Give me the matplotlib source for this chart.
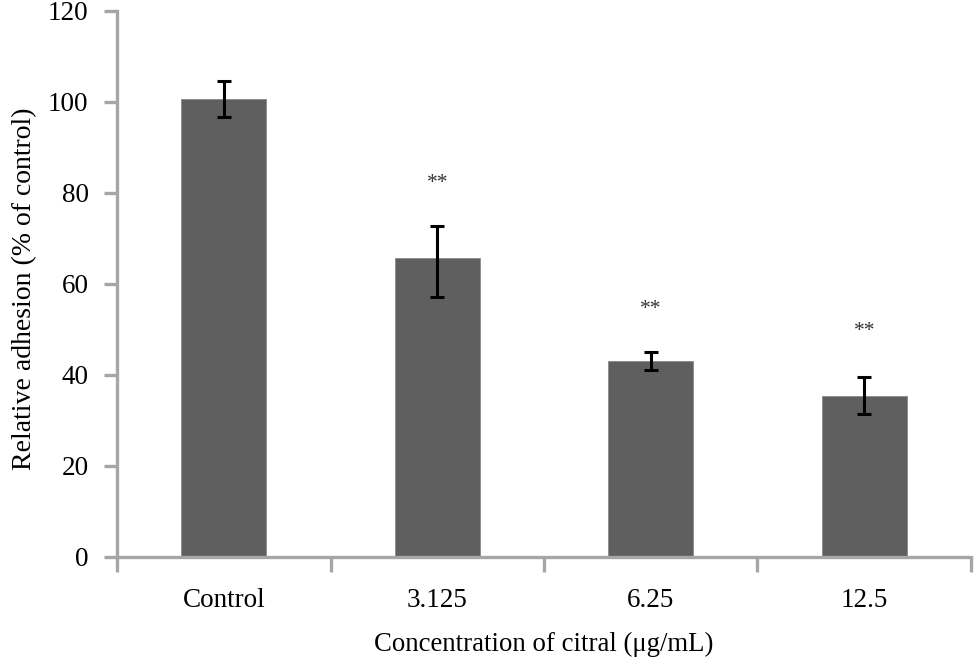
import matplotlib
matplotlib.use("Agg")
import matplotlib.pyplot as plt
import numpy as np

categories = ["Control", "3.125", "6.25", "12.5"]
values = [100.5, 65.7, 43.0, 35.3]
err_upper = [104.6, 72.7, 45.0, 39.5]
err_lower = [96.6, 57.1, 41.0, 31.3]
stars = ["", "**", "**", "**"]
star_y = [None, 82.1, 54.4, 49.4]
yticks = [0, 20, 40, 60, 80, 100, 120]

plt.rcParams['font.family'] = ['Liberation Serif', 'DejaVu Serif']

fig = plt.figure(figsize=(9.74, 6.6), dpi=100)
ax = fig.add_axes([117/974, 1-556.5/660, (971-117)/974, (556.5-10.7)/660])

x = np.arange(len(categories))
vals = np.array(values)
yerr = np.array([vals - np.array(err_lower), np.array(err_upper) - vals])
ax.bar(x, vals, width=0.4, color="#5f5f5f", edgecolor="#8a8a8a", linewidth=0.6, zorder=2)
ax.errorbar(x, vals, yerr=yerr, fmt="none", ecolor="black", elinewidth=2.2,
            capsize=5, capthick=2.2, zorder=3)
for xi, s, sy in zip(x, stars, star_y):
    if s:
        ax.text(xi, sy, s, ha="center", va="center", fontsize=15.5, color="#333333")

ax.set_xlim(-0.5, len(categories) - 0.5)
ax.set_ylim(0, 120)
ax.set_yticks(yticks)
ax.set_yticklabels([str(t) for t in yticks], fontsize=19.5)
ax.set_xticks(x)
ax.set_xticklabels(categories, fontsize=19.5)
ax.set_xticks(np.arange(len(categories) + 1) - 0.5, minor=True)

gray = "#a6a6a6"
for s in ["top", "right"]:
    ax.spines[s].set_visible(False)
for s in ["left", "bottom"]:
    ax.spines[s].set_color(gray)
    ax.spines[s].set_linewidth(2.4)

ax.tick_params(axis="y", direction="out", length=9.5, width=2.4, color=gray, pad=11)
ax.tick_params(axis="x", which="major", length=0, pad=23)
ax.tick_params(axis="x", which="minor", direction="out", length=11, width=2.4, color=gray)

ax.set_xlabel("Concentration of citral (μg/mL)", fontsize=19.3, labelpad=13)
ax.set_ylabel("Relative adhesion (% of control)", fontsize=20, labelpad=5)
ax.yaxis.set_label_coords(-0.093, 0.49)

fig.savefig("out.png", dpi=100)
